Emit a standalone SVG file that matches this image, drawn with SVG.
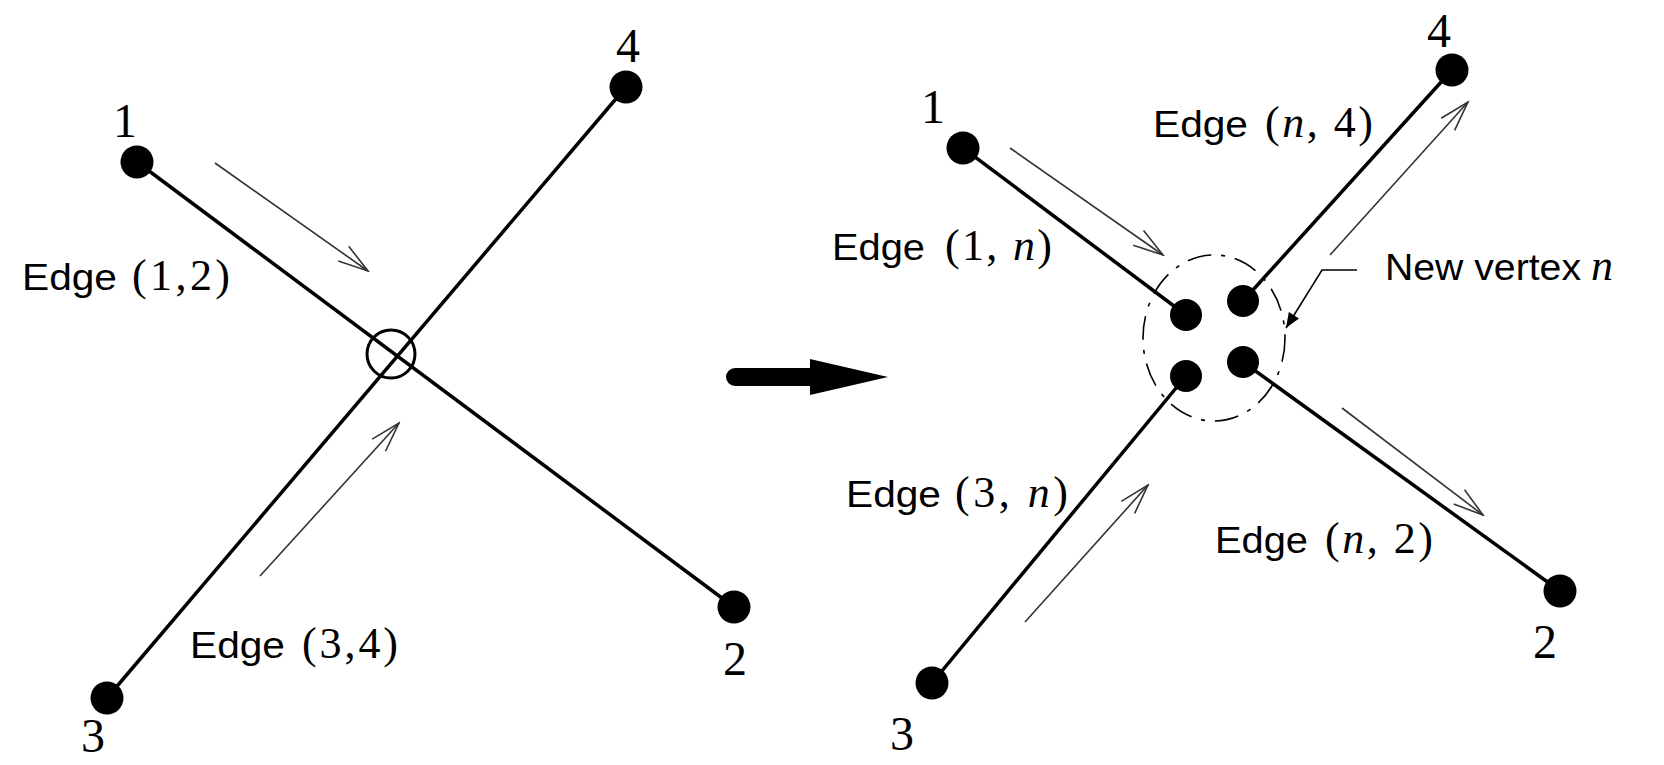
<svg xmlns="http://www.w3.org/2000/svg" width="1664" height="765" viewBox="0 0 1664 765">
<style>
.edge{stroke:#000;stroke-width:3.5;fill:none}
.thin{stroke:#333;stroke-width:1.6;fill:none;marker-end:url(#open)}
.dot{fill:#000}
.sans{font-family:"Liberation Sans",Arial,sans-serif;font-size:37px;fill:#000}
.serif{font-family:"Liberation Serif","Times New Roman",serif;font-size:44px;fill:#000}
.num{font-family:"Liberation Serif","Times New Roman",serif;font-size:48px;fill:#000;text-anchor:middle}
.it{font-style:italic}
</style>
<defs>
<marker id="open" viewBox="-32 -12 34 24" refX="0" refY="0" markerWidth="34" markerHeight="24" markerUnits="userSpaceOnUse" orient="auto">
<path d="M-30,-9 L0,0 L-30,9" fill="none" stroke="#333" stroke-width="1.6"/>
</marker>
<marker id="solid" viewBox="-16 -7 17 14" refX="0" refY="0" markerWidth="17" markerHeight="14" markerUnits="userSpaceOnUse" orient="auto">
<path d="M-15,-6 L0,0 L-15,6 Z" fill="#000"/>
</marker>
</defs>
<rect width="1664" height="765" fill="#fff"/>

<g id="connectors">
<line class="edge" x1="137" y1="162" x2="734" y2="607"/>
<line class="edge" x1="107" y1="698" x2="626" y2="87"/>
<line class="edge" x1="963" y1="148" x2="1186" y2="315"/>
<line class="edge" x1="1452" y1="70" x2="1243" y2="301"/>
<line class="edge" x1="932" y1="683" x2="1186" y2="376"/>
<line class="edge" x1="1560" y1="591" x2="1243" y2="362"/>
<line class="thin" x1="215" y1="163" x2="368" y2="271"/>
<line class="thin" x1="260" y1="576" x2="399" y2="423"/>
<line class="thin" x1="1010" y1="148" x2="1163" y2="255"/>
<line class="thin" x1="1330" y1="255" x2="1468" y2="102"/>
<line class="thin" x1="1342" y1="408" x2="1483" y2="515"/>
<line class="thin" x1="1025" y1="622" x2="1148" y2="485"/>
<polyline points="1357,270 1322,270 1286,328" fill="none" stroke="#000" stroke-width="1.6" marker-end="url(#solid)"/>
<path d="M735,368 L810,368 L810,359 L888,377 L810,395 L810,386 L735,386 A9,9 0 0 1 735,368 Z" fill="#000"/>
</g>

<g id="intersection">
<circle cx="391" cy="354" r="24" fill="none" stroke="#000" stroke-width="3"/>
</g>

<g id="new-vertex-region">
<ellipse cx="1214" cy="338" rx="71" ry="83" fill="none" stroke="#000" stroke-width="1.6" stroke-dasharray="24 10 4 10"/>
</g>

<g id="left-node-1"><circle class="dot" cx="137" cy="162" r="16.5"/><text class="num" x="125" y="137">1</text></g>
<g id="left-node-2"><circle class="dot" cx="734" cy="607" r="16.5"/><text class="num" x="735" y="675">2</text></g>
<g id="left-node-3"><circle class="dot" cx="107" cy="698" r="16.5"/><text class="num" x="93" y="752">3</text></g>
<g id="left-node-4"><circle class="dot" cx="626" cy="87" r="16.5"/><text class="num" x="628" y="62">4</text></g>

<g id="right-node-1"><circle class="dot" cx="963" cy="148" r="16.5"/><text class="num" x="933" y="123">1</text></g>
<g id="right-node-2"><circle class="dot" cx="1560" cy="591" r="16.5"/><text class="num" x="1545" y="658">2</text></g>
<g id="right-node-3"><circle class="dot" cx="932" cy="683" r="16.5"/><text class="num" x="902" y="750">3</text></g>
<g id="right-node-4"><circle class="dot" cx="1452" cy="70" r="16.5"/><text class="num" x="1439" y="47">4</text></g>
<g id="inner-nodes">
<circle class="dot" cx="1186" cy="315" r="16"/>
<circle class="dot" cx="1243" cy="301" r="16"/>
<circle class="dot" cx="1186" cy="376" r="16"/>
<circle class="dot" cx="1243" cy="362" r="16"/>
</g>

<g id="label-edge-12">
<text class="sans" x="22" y="290" textLength="95" lengthAdjust="spacingAndGlyphs">Edge</text>
<text class="serif" x="132" y="290" textLength="98" lengthAdjust="spacing">(1,2)</text>
</g>
<g id="label-edge-34">
<text class="sans" x="190" y="658" textLength="95" lengthAdjust="spacingAndGlyphs">Edge</text>
<text class="serif" x="302" y="658" textLength="96" lengthAdjust="spacing">(3,4)</text>
</g>
<g id="label-edge-1n">
<text class="sans" x="832" y="260" textLength="93" lengthAdjust="spacingAndGlyphs">Edge</text>
<text class="serif" x="945" y="260" textLength="107" lengthAdjust="spacing">(1, <tspan class="it">n</tspan>)</text>
</g>
<g id="label-edge-n4">
<text class="sans" x="1153" y="137" textLength="95" lengthAdjust="spacingAndGlyphs">Edge</text>
<text class="serif" x="1265" y="137" textLength="108" lengthAdjust="spacing">(<tspan class="it">n</tspan>, 4)</text>
</g>
<g id="label-edge-3n">
<text class="sans" x="846" y="507" textLength="95" lengthAdjust="spacingAndGlyphs">Edge</text>
<text class="serif" x="955" y="507" textLength="113" lengthAdjust="spacing">(3, <tspan class="it">n</tspan>)</text>
</g>
<g id="label-edge-n2">
<text class="sans" x="1215" y="553" textLength="93" lengthAdjust="spacingAndGlyphs">Edge</text>
<text class="serif" x="1325" y="553" textLength="108" lengthAdjust="spacing">(<tspan class="it">n</tspan>, 2)</text>
</g>
<g id="label-new-vertex">
<text class="sans" x="1385" y="280" textLength="196" lengthAdjust="spacingAndGlyphs">New vertex</text>
<text class="serif it" x="1591" y="280">n</text>
</g>
</svg>
